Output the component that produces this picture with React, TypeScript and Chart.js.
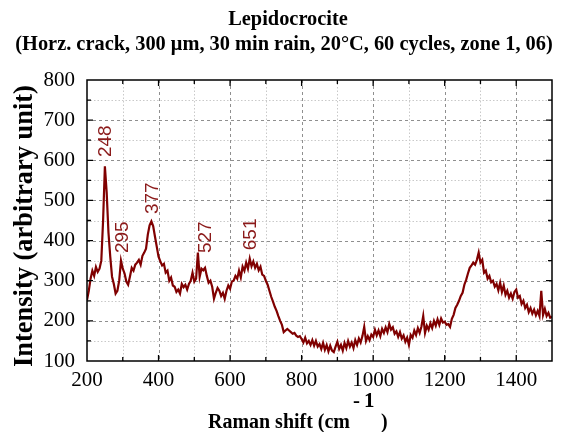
import React, { useEffect, useRef } from 'react';
import { Chart, registerables } from 'chart.js';
Chart.register(...registerables);

const titleLines = ['Lepidocrocite', '(Horz. crack, 300 μm, 30 min rain, 20°C, 60 cycles, zone 1, 06)'];
const xTitleMain = 'Raman shift (cm';
const xTitleSupParts = ['-', '1'];
const xTitleEnd = ')';
const yTitle = 'Intensity (arbitrary unit)';

const ramanShift = [
  200, 205, 210, 215, 220, 225, 230, 235, 240, 245, 250, 255, 260, 265, 270, 275, 280, 285, 290, 295,
  300, 305, 310, 315, 320, 325, 330, 335, 340, 345, 350, 355, 360, 365, 370, 375, 380, 385, 390, 395,
  400, 405, 410, 415, 420, 425, 430, 435, 440, 445, 450, 455, 460, 465, 470, 475, 480, 485, 490, 495,
  500, 505, 510, 515, 520, 525, 530, 535, 540, 545, 550, 555, 560, 565, 570, 575, 580, 585, 590, 595,
  600, 605, 610, 615, 620, 625, 630, 635, 640, 645, 650, 655, 660, 665, 670, 675, 680, 685, 690, 695,
  700, 705, 710, 715, 720, 725, 730, 735, 740, 745, 750, 755, 760, 765, 770, 775, 780, 785, 790, 795,
  800, 805, 810, 815, 820, 825, 830, 835, 840, 845, 850, 855, 860, 865, 870, 875, 880, 885, 890, 895,
  900, 905, 910, 915, 920, 925, 930, 935, 940, 945, 950, 955, 960, 965, 970, 975, 980, 985, 990, 995,
  1000, 1005, 1010, 1015, 1020, 1025, 1030, 1035, 1040, 1045, 1050, 1055, 1060, 1065, 1070, 1075, 1080, 1085, 1090, 1095,
  1100, 1105, 1110, 1115, 1120, 1125, 1130, 1135, 1140, 1145, 1150, 1155, 1160, 1165, 1170, 1175, 1180, 1185, 1190, 1195,
  1200, 1205, 1210, 1215, 1220, 1225, 1230, 1235, 1240, 1245, 1250, 1255, 1260, 1265, 1270, 1275, 1280, 1285, 1290, 1295,
  1300, 1305, 1310, 1315, 1320, 1325, 1330, 1335, 1340, 1345, 1350, 1355, 1360, 1365, 1370, 1375, 1380, 1385, 1390, 1395,
  1400, 1405, 1410, 1415, 1420, 1425, 1430, 1435, 1440, 1445, 1450, 1455, 1460, 1465, 1470, 1475, 1480, 1485, 1490, 1495,
  1500,
];

const intensity = [
  252, 275, 305, 325, 312, 334, 322, 330, 350, 450, 585, 520, 420, 360, 310, 292, 268, 275, 300, 350,
  330, 318, 298, 290, 310, 332, 325, 340, 345, 352, 340, 362, 370, 380, 415, 438, 448, 436, 410, 385,
  360, 348, 338, 342, 320, 325, 300, 308, 288, 285, 272, 278, 268, 292, 284, 290, 278, 292, 300, 320,
  298, 305, 370, 310, 330, 326, 332, 312, 295, 300, 285, 255, 270, 282, 275, 262, 270, 255, 275, 288,
  280, 298, 300, 312, 305, 325, 308, 335, 325, 345, 330, 355, 336, 348, 332, 342, 326, 335, 315, 312,
  300, 290, 275, 260, 248, 235, 225, 212, 200, 190, 172, 176, 180, 176, 172, 168, 170, 163, 160, 162,
  155, 146, 158, 144, 150, 140, 152, 138, 150, 136, 142, 130, 145, 128, 140, 124, 138, 126, 122, 136,
  148, 130, 140, 126, 145, 132, 150, 136, 146, 132, 152, 140, 156, 146, 162, 185, 150, 162, 152, 166,
  160, 178, 164, 176, 162, 180, 170, 184, 172, 192, 178, 184, 168, 174, 160, 172, 156, 164, 148, 158,
  140, 165, 158, 176, 165, 182, 170, 186, 212, 170, 188, 178, 194, 182, 200, 188, 204, 190, 206, 196,
  198, 190, 192, 185, 205, 215, 232, 240, 250, 262, 270, 290, 302, 318, 332, 338, 345, 340, 352, 370,
  345, 352, 320, 325, 305, 312, 296, 300, 285, 292, 276, 295, 272, 288, 265, 275, 258, 268, 255, 272,
  278, 258, 262, 242, 250, 232, 240, 222, 232, 218, 228, 214, 225, 212, 275, 215, 230, 212, 220, 208,
  210,
];

const peakLabels = ['248', '295', '377', '527', '651'];
const peakPositions = [248, 295, 377, 527, 651];
const peakLabelBase = [608, 369, 466, 369, 376];

const xMajorGrid = [400, 600, 800, 1000, 1200, 1400];
const xMinorGrid = [300, 500, 700, 900, 1100, 1300];
const yMajorGrid = [200, 300, 400, 500, 600, 700];
const yMinorGrid = [150, 250, 350, 450, 550, 650, 750];
const xMinorTicks = [300, 500, 700, 900, 1100, 1300];
const yMinorTicks = [150, 250, 350, 450, 550, 650, 750];

const SERIF = '"Liberation Serif", "Times New Roman", serif';
const SANS = '"Liberation Sans", Arial, sans-serif';

function fitFont(ctx: CanvasRenderingContext2D, text: string, weight: string, family: string, target: number) {
  ctx.font = `${weight} 20px ${family}`;
  const w = ctx.measureText(text).width;
  return (20 * target) / w;
}

const decorPlugin = {
  id: 'decor',
  beforeDatasetsDraw(chart: any) {
    const { ctx, chartArea: a, scales } = chart;
    const x = scales.x;
    const y = scales.y;
    ctx.save();
    ctx.lineWidth = 1;
    ctx.strokeStyle = '#c9c9c9';
    ctx.setLineDash([1.5, 2]);
    ctx.beginPath();
    for (const v of xMinorGrid) {
      const p = Math.round(x.getPixelForValue(v)) + 0.5;
      ctx.moveTo(p, a.top);
      ctx.lineTo(p, a.bottom);
    }
    for (const v of yMinorGrid) {
      const p = Math.round(y.getPixelForValue(v)) + 0.5;
      ctx.moveTo(a.left, p);
      ctx.lineTo(a.right, p);
    }
    ctx.stroke();
    ctx.strokeStyle = '#8f8f8f';
    ctx.setLineDash([3, 3]);
    ctx.beginPath();
    for (const v of xMajorGrid) {
      const p = Math.round(x.getPixelForValue(v)) + 0.5;
      ctx.moveTo(p, a.top);
      ctx.lineTo(p, a.bottom);
    }
    for (const v of yMajorGrid) {
      const p = Math.round(y.getPixelForValue(v)) + 0.5;
      ctx.moveTo(a.left, p);
      ctx.lineTo(a.right, p);
    }
    ctx.stroke();
    ctx.restore();
  },
  afterDatasetsDraw(chart: any) {
    const { ctx, chartArea: a, scales } = chart;
    const x = scales.x;
    const y = scales.y;
    ctx.save();
    ctx.setLineDash([]);
    ctx.strokeStyle = '#000';
    ctx.lineWidth = 1.3;
    ctx.beginPath();
    for (const v of xMajorGrid) {
      const p = x.getPixelForValue(v);
      ctx.moveTo(p, a.bottom); ctx.lineTo(p, a.bottom - 6);
      ctx.moveTo(p, a.top); ctx.lineTo(p, a.top + 6);
    }
    for (const v of xMinorTicks) {
      const p = x.getPixelForValue(v);
      ctx.moveTo(p, a.bottom); ctx.lineTo(p, a.bottom - 4);
      ctx.moveTo(p, a.top); ctx.lineTo(p, a.top + 4);
    }
    for (const v of yMajorGrid) {
      const p = y.getPixelForValue(v);
      ctx.moveTo(a.left, p); ctx.lineTo(a.left + 6, p);
      ctx.moveTo(a.right, p); ctx.lineTo(a.right - 6, p);
    }
    for (const v of yMinorTicks) {
      const p = y.getPixelForValue(v);
      ctx.moveTo(a.left, p); ctx.lineTo(a.left + 4, p);
      ctx.moveTo(a.right, p); ctx.lineTo(a.right - 4, p);
    }
    ctx.stroke();
    ctx.lineWidth = 1.5;
    ctx.strokeRect(a.left, a.top, a.right - a.left, a.bottom - a.top);

    // peak labels
    ctx.fillStyle = '#8b1a1a';
    ctx.font = `19px ${SANS}`;
    ctx.textAlign = 'left';
    ctx.textBaseline = 'middle';
    peakLabels.forEach((t, i) => {
      const px = x.getPixelForValue(peakPositions[i]) + 2;
      const py = y.getPixelForValue(peakLabelBase[i]);
      ctx.save();
      ctx.translate(px, py);
      ctx.rotate(-Math.PI / 2);
      ctx.fillText(t, 0, 0);
      ctx.restore();
    });

    // titles
    ctx.fillStyle = '#000';
    ctx.textBaseline = 'alphabetic';
    ctx.textAlign = 'center';
    const tSize = fitFont(ctx, titleLines[1], 'bold', SERIF, 538);
    ctx.font = `bold ${tSize}px ${SERIF}`;
    ctx.fillText(titleLines[0], 288, 25);
    ctx.fillText(titleLines[1], 284, 50);

    // y axis title
    const ySize = fitFont(ctx, yTitle, 'bold', SERIF, 282);
    ctx.font = `bold ${ySize}px ${SERIF}`;
    ctx.save();
    ctx.translate(32, 226);
    ctx.rotate(-Math.PI / 2);
    ctx.textAlign = 'center';
    ctx.fillText(yTitle, 0, 0);
    ctx.restore();

    // x axis title with superscript
    const xSize = fitFont(ctx, xTitleMain, 'bold', SERIF, 142);
    ctx.textAlign = 'left';
    ctx.font = `bold ${xSize}px ${SERIF}`;
    ctx.fillText(xTitleMain, 208, 428);
    ctx.font = `bold ${xSize * 1.05}px ${SERIF}`;
    ctx.fillText(xTitleSupParts[0], 353, 407);
    ctx.fillText(xTitleSupParts[1], 364, 407);
    ctx.font = `bold ${xSize}px ${SERIF}`;
    ctx.fillText(xTitleEnd, 381, 428);
    ctx.restore();
  },
};

export default function App() {
  const ref = useRef<HTMLCanvasElement>(null);
  useEffect(() => {
    document.body.style.margin = '0';
    const canvas = ref.current!;
    const chart = new Chart(canvas, {
      type: 'line',
      data: {
        datasets: [
          {
            data: ramanShift.map((v, i) => ({ x: v, y: intensity[i] })),
            borderColor: '#800000',
            borderWidth: 2.2,
            pointRadius: 0,
            tension: 0,
            fill: false,
          },
        ],
      },
      options: {
        animation: false,
        responsive: false,
        devicePixelRatio: 1,
        layout: { padding: { top: 80, right: 9, left: 0, bottom: 0 } },
        plugins: { legend: { display: false }, tooltip: { enabled: false }, title: { display: false } },
        scales: {
          x: {
            type: 'linear',
            min: 200,
            max: 1500,
            grid: { display: false, drawTicks: false, tickLength: 0 },
            border: { display: false },
            ticks: {
              stepSize: 200,
              includeBounds: false,
              padding: 7,
              color: '#000',
              font: { family: SERIF, size: 21 },
              maxRotation: 0,
              autoSkip: false,
              callback: (v: any) => String(v),
            },
            afterFit: (s: any) => { s.height = 71; },
          },
          y: {
            type: 'linear',
            min: 100,
            max: 800,
            grid: { display: false, drawTicks: false, tickLength: 0 },
            border: { display: false },
            ticks: {
              stepSize: 100,
              padding: 12,
              color: '#000',
              font: { family: SERIF, size: 21 },
              callback: (v: any) => String(v),
            },
            afterFit: (s: any) => { s.width = 87; },
          },
        },
      },
      plugins: [decorPlugin],
    });
    return () => chart.destroy();
  }, []);
  return (
    <div style={{ width: 561, height: 432 }}>
      <canvas ref={ref} width={561} height={432} style={{ display: 'block' }} />
    </div>
  );
}
